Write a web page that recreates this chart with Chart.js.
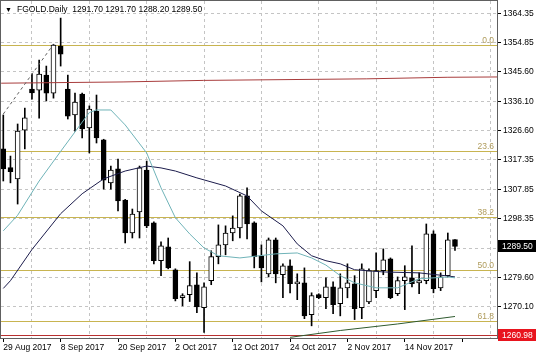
<!DOCTYPE html>
<html><head><meta charset="utf-8">
<script src="https://cdn.jsdelivr.net/npm/chart.js@4.4.0/dist/chart.umd.min.js"></script>
<style>html,body{margin:0;padding:0;background:#fff;overflow:hidden}#wrap{width:536px;height:357px}</style>
</head><body><div id="wrap"><canvas id="c" width="536" height="357"></canvas></div>
<script>
// ---- data ----
const opens  = [1320.8,1314.8,1311.2,1326.8,1340.0,1339.7,1344.5,1338.7,1353.8,1340.0,1331.7,1338.4,1327.5,1332.9,1323.7,1309.9,1314.4,1304.4,1293.8,1300.6,1314.0,1297.1,1284.9,1289.4,1282.0,1273.0,1274.0,1277.2,1269.8,1278.5,1286.2,1290.0,1293.8,1295.4,1305.7,1297.1,1286.5,1280.7,1291.6,1280.4,1283.3,1277.5,1277.8,1267.6,1274.0,1273.0,1276.5,1271.1,1276.2,1277.5,1269.8,1271.7,1275.3,1281.7,1285.5,1274.3,1278.5,1279.4,1277.8,1278.5,1293.5,1276.2,1280.1,1291.7];
const highs  = [1331.7,1318.5,1328.8,1333.9,1344.8,1349.3,1347.4,1354.4,1362.8,1344.5,1338.7,1338.7,1334.6,1338.1,1323.9,1315.3,1317.5,1304.6,1301.5,1315.3,1316.9,1297.4,1291.0,1292.2,1282.3,1274.3,1284.6,1281.0,1277.8,1288.1,1296.4,1296.1,1299.3,1306.3,1308.3,1297.4,1290.0,1292.2,1292.2,1283.9,1285.2,1280.7,1282.6,1274.6,1274.3,1279.4,1278.1,1280.7,1283.9,1280.1,1283.9,1282.3,1287.4,1288.7,1285.8,1279.7,1283.3,1289.7,1281.0,1296.7,1294.5,1281.0,1293.8,1291.7];
const lows   = [1310.5,1309.9,1303.1,1320.8,1336.8,1330.7,1336.2,1337.1,1347.4,1330.4,1326.5,1324.3,1319.5,1322.7,1307.9,1307.9,1300.9,1290.6,1292.2,1292.2,1295.5,1283.9,1280.1,1282.3,1272.0,1270.4,1271.8,1268.2,1261.9,1277.2,1283.9,1286.8,1291.3,1292.2,1291.9,1282.6,1278.1,1279.7,1277.8,1273.0,1274.6,1272.4,1266.3,1264.0,1272.7,1269.5,1267.9,1267.2,1273.0,1266.0,1266.3,1271.1,1273.0,1280.4,1272.7,1273.7,1269.2,1276.5,1274.3,1277.5,1274.6,1275.3,1279.7,1288.2];
const closes = [1314.4,1313.5,1326.5,1330.8,1338.8,1344.8,1338.7,1354.1,1351.2,1331.3,1335.8,1327.2,1333.6,1324.3,1310.8,1314.0,1304.1,1293.8,1299.9,1314.7,1296.1,1284.9,1289.7,1282.6,1272.7,1273.7,1276.9,1270.1,1276.5,1286.2,1290.0,1293.8,1295.4,1305.7,1296.7,1286.2,1282.6,1291.6,1280.7,1283.3,1277.5,1278.1,1267.2,1273.7,1273.0,1276.5,1270.8,1276.2,1277.8,1269.5,1282.3,1281.7,1281.7,1285.2,1273.0,1278.5,1279.7,1277.5,1278.5,1293.5,1275.9,1279.7,1291.6,1289.5];

// moving averages / drawn lines, as [bar, price]
const fastMA = [[0,1294.5],[2,1299.5],[5,1310.5],[8,1320.0],[12,1332.5],[13,1333.3],[15,1333.3],[17,1328.5],[20,1319.5],[22,1308.3],[24,1298.7],[26,1293.5],[28,1289.0],[30,1286.5],[33,1285.8],[38,1287.1],[41,1287.4],[43,1285.8],[45,1283.5],[47,1280.1],[49,1277.8],[52,1276.2],[55,1276.2],[58,1279.1],[62,1279.7],[63,1279.4]];
const slowMA = [[0,1276.0],[1,1278.5],[4,1288.5],[8,1300.0],[11,1306.4],[14,1311.2],[17,1313.7],[20,1315.3],[22,1314.7],[24,1313.7],[27,1311.5],[31,1308.9],[34,1305.7],[36,1300.9],[39,1296.1],[41,1290.3],[43,1286.5],[45,1284.9],[47,1283.9],[49,1282.0],[53,1281.3],[58,1281.0],[62,1280.0],[63,1279.7]];
const longMA = [[40,1260.3],[47,1262.5],[55,1264.6],[63,1267.0]];
const redLine = [[-0.3,1341.9],[16.7,1342.3],[27.9,1342.8],[50.7,1343.3],[61.9,1343.8],[68.9,1343.9]];
const trendLine = [[0,1332.0],[7,1354.4]];

const fibLevels = [1354.2,1320.1,1299.0,1282.0,1265.5];
const fibLabels = ['0.0','23.6','38.2','50.0','61.8'];
const supportLevel = 1260.98;
const lastPrice = 1289.50;

const yTicks = [1364.35,1354.85,1345.60,1336.10,1326.60,1317.35,1307.85,1298.35,1288.85,1279.60,1270.10];
const xTickBars = [0,8,16,24,32,40,48,56];
const xTickLabels = ['29 Aug 2017','8 Sep 2017','20 Sep 2017','2 Oct 2017','12 Oct 2017','24 Oct 2017','2 Nov 2017','14 Nov 2017'];
const gridBars = [0,4,8,12,16,20,24,28,32,36,40,44,48,52,56,60,64,68];

const titleText = 'FGOLD.Daily  1291.70 1291.70 1288.20 1289.50';

// ---- scale range ----
const xMin = -0.32, xMax = 68.86;
const yMin = 1260.09, yMax = 1368.29;

const FONT = '"Liberation Sans", Arial, sans-serif';
Chart.defaults.font.family = FONT;
Chart.defaults.font.size = 8.5;
Chart.defaults.color = '#000';

const bodies = opens.map((o,i)=>({x:i, y:[o, closes[i]]}));
const wicks = lows.map((l,i)=>({x:i, y:[l, highs[i]]}));
const bodyColors = opens.map((o,i)=> closes[i] >= o ? '#ffffff' : '#000000');
const pts = a => a.map(p=>({x:p[0], y:p[1]}));

const GRID = '#c4c4c4';
const FIB = '#c8b450';

const levelsPlugin = {
  id:'levels',
  beforeDatasetsDraw(chart){
    const {ctx, chartArea:a, scales:{y}} = chart;
    ctx.save();
    ctx.lineWidth = 1;
    ctx.font = '8.5px ' + FONT;
    ctx.textAlign = 'right';
    ctx.textBaseline = 'bottom';
    fibLevels.forEach((v,i)=>{
      const py = Math.round(y.getPixelForValue(v)) + 0.5;
      ctx.strokeStyle = FIB;
      ctx.beginPath(); ctx.moveTo(a.left, py); ctx.lineTo(a.right, py); ctx.stroke();
      ctx.fillStyle = '#b09c5c';
      ctx.fillText(fibLabels[i], a.right - 3, py - 1);
    });
    const sy = Math.round(y.getPixelForValue(supportLevel)) + 0.5;
    ctx.strokeStyle = '#b83030';
    ctx.beginPath(); ctx.moveTo(a.left, sy); ctx.lineTo(a.right, sy); ctx.stroke();
    ctx.restore();
  },
  afterDraw(chart){
    const {ctx, chartArea:a, scales:{y}} = chart;
    ctx.save();
    // frame
    ctx.strokeStyle = '#606060';
    ctx.lineWidth = 1;
    ctx.strokeRect(a.left - 0.5, a.top - 0.5, a.right - a.left + 1, a.bottom - a.top + 1);
    // price boxes
    ctx.font = '8.5px ' + FONT;
    ctx.textAlign = 'left';
    ctx.textBaseline = 'middle';
    const box = (v, bg) => {
      const py = Math.round(y.getPixelForValue(v));
      ctx.fillStyle = bg;
      ctx.fillRect(a.right + 1, py - 6, 536 - a.right - 1, 12);
      ctx.fillStyle = '#ffffff';
      ctx.fillText(v.toFixed(2), a.right + 5, py + 0.5);
    };
    box(lastPrice, '#000000');
    box(supportLevel, '#e8141e');
    // title
    ctx.fillStyle = '#000';
    ctx.font = '7px ' + FONT;
    ctx.fillText('\u25BC', 5, 10);
    ctx.font = '8.5px ' + FONT;
    ctx.fillText(titleText, 17, 10);
    ctx.restore();
  }
};

new Chart(document.getElementById('c'), {
  type: 'bar',
  data: {
    datasets: [
      {type:'line', data: pts(trendLine), borderColor:'#606060', borderWidth:1, borderDash:[3,3], pointRadius:0, order:0},
      {type:'line', data: pts(redLine), borderColor:'#a83c3c', borderWidth:1, pointRadius:0, order:0},
      {type:'line', data: pts(fastMA), borderColor:'#6fb3b8', borderWidth:1, pointRadius:0, order:0},
      {type:'line', data: pts(slowMA), borderColor:'#1c1c4c', borderWidth:1, pointRadius:0, order:0},
      {type:'line', data: pts(longMA), borderColor:'#2f5a2f', borderWidth:1, pointRadius:0, order:0},
      {type:'bar', data: bodies, backgroundColor: bodyColors, borderColor:'#000', borderWidth:1, borderSkipped:false, barThickness:5, grouped:false, order:1},
      {type:'bar', data: wicks, backgroundColor:'#000', borderWidth:0, barThickness:1, grouped:false, order:2}
    ]
  },
  options: {
    responsive:false, animation:false, devicePixelRatio:1,
    layout:{padding:{left:1, top:1, right:0, bottom:0}},
    plugins:{legend:{display:false}, tooltip:{enabled:false}},
    scales:{
      x:{
        type:'linear', min:xMin, max:xMax, position:'bottom', offset:false,
        afterBuildTicks: s => { s.ticks = gridBars.map(v=>({value:v})); },
        afterFit: s => { s.height = 19; s.paddingLeft = 0; s.paddingRight = 0; },
        ticks:{
          autoSkip:false, maxRotation:0, align:'start', padding:1,
          callback: v => { const k = xTickBars.indexOf(v); return k >= 0 ? xTickLabels[k] : ''; }
        },
        grid:{
          offset:false,
          color: c => (c.tick && c.tick.value % 8 === 4) ? GRID : 'rgba(0,0,0,0)',
          tickColor: c => (c.tick && c.tick.value % 8 === 0) ? '#000' : 'rgba(0,0,0,0)',
          tickLength:4, lineWidth:1
        },
        border:{display:true, color:'#000', width:1, dash:[3,3]}
      },
      y:{
        type:'linear', min:yMin, max:yMax, position:'right',
        afterBuildTicks: s => { s.ticks = yTicks.map(v=>({value:v})); },
        afterFit: s => { s.width = 39; s.paddingTop = 0; s.paddingBottom = 0; },
        ticks:{ padding:2, callback: v => v.toFixed(2) },
        grid:{ color: GRID, tickColor:'#000', tickLength:4, lineWidth:1 },
        border:{display:true, color:'#000', width:1, dash:[3,3]}
      }
    }
  },
  plugins:[levelsPlugin]
});
</script>
</body></html>
